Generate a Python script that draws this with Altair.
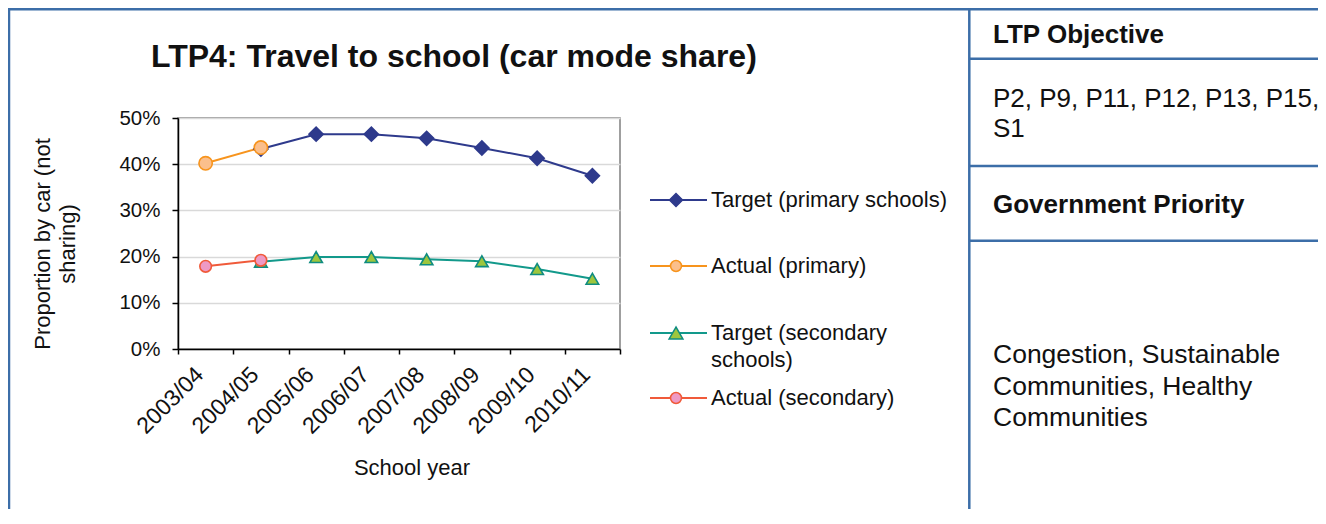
import altair as alt
import pandas as pd

FONT = "Liberation Sans"

# ---------------- data ----------------
years = ["2003/04", "2004/05", "2005/06", "2006/07", "2007/08", "2008/09", "2009/10", "2010/11"]
series_names = ["Target (primary schools)", "Actual (primary)",
                "Target (secondary schools)", "Actual (secondary)"]
target_primary = [None, 43.3, 46.5, 46.5, 45.6, 43.5, 41.3, 37.5]
actual_primary = [40.2, 43.6, None, None, None, None, None, None]
target_secondary = [None, 18.9, 19.9, 19.9, 19.4, 19.0, 17.3, 15.2]
actual_secondary = [17.9, 19.2, None, None, None, None, None, None]
y_ticks = [0, 10, 20, 30, 40, 50]

legend_lines = [["Target (primary schools)"], ["Actual (primary)"],
                ["Target (secondary", "schools)"], ["Actual (secondary)"]]

title_text = "LTP4: Travel to school (car mode share)"
y_title_lines = ["Proportion by car (not", "sharing)"]
x_title_text = "School year"
panel_bold = ["LTP Objective", "Government Priority"]
panel_objective = ["P2, P9, P11, P12, P13, P15,", "S1"]
panel_priority = ["Congestion, Sustainable", "Communities, Healthy", "Communities"]

# ---------------- styles ----------------
line_colors = ["#2E3A8C", "#F7941D", "#12998B", "#F05A3A"]
fill_colors = ["#2E3A8C", "#FBBF8C", "#9DC63E", "#EE9AC5"]
stroke_colors = ["#2E3A8C", "#F7941D", "#0F8C80", "#F05A3A"]
shapes = ["diamond", "circle", "triangle-up", "circle"]
sizes = [200, 135, 210, 135]
FRAME = "#3C6EA8"

rows = []
for name, vals in zip(series_names, [target_primary, actual_primary, target_secondary, actual_secondary]):
    for y, v in zip(years, vals):
        if v is not None:
            rows.append({"year": y, "series": name, "value": v})
df = pd.DataFrame(rows)

x_enc = alt.X(
    "year:N", sort=years, bandPosition=0.5,
    scale=alt.Scale(type="band", domain=years, paddingInner=0, paddingOuter=0),
    axis=alt.Axis(title=None, tickBand="extent", labelAngle=315, labelAlign="right",
                  labelBaseline="top", labelOffset=-14, labelPadding=9, tickSize=5,
                  tickColor="black", tickWidth=1.5, domainColor="black", domainWidth=1.5,
                  labelFont=FONT, labelFontSize=23, labelColor="#111111", grid=False),
)
y_enc = alt.Y(
    "value:Q",
    scale=alt.Scale(domain=[0, 50], nice=False),
    axis=alt.Axis(title=None, values=y_ticks, labelExpr="datum.value + '%'", tickSize=6,
                  labelPadding=12, grid=True, gridColor="#D9D9D9", gridWidth=1.5,
                  domainColor="black", domainWidth=1.5, tickColor="black", tickWidth=1.5,
                  labelFont=FONT, labelFontSize=20.5, labelColor="#111111"),
)

base = alt.Chart(df)
lines = base.mark_line(strokeWidth=2).encode(
    x=x_enc, y=y_enc,
    color=alt.Color("series:N", scale=alt.Scale(domain=series_names, range=line_colors), legend=None),
)
points = base.mark_point(filled=True, opacity=1, strokeWidth=1.6).encode(
    x=x_enc, y=y_enc,
    shape=alt.Shape("series:N", scale=alt.Scale(domain=series_names, range=shapes), legend=None),
    fill=alt.Fill("series:N", scale=alt.Scale(domain=series_names, range=fill_colors), legend=None),
    stroke=alt.Stroke("series:N", scale=alt.Scale(domain=series_names, range=stroke_colors), legend=None),
    size=alt.Size("series:N", scale=alt.Scale(domain=series_names, range=sizes), legend=None),
)

one = pd.DataFrame({"k": [0]})


def text_layer(txt, x, y, size, bold=False, align="left", baseline="alphabetic", angle=0, color="#111111"):
    kw = dict(text=txt, font=FONT, fontSize=size, align=align, baseline=baseline,
              fontWeight="bold" if bold else "normal", color=color)
    if angle:
        kw["angle"] = angle
    return alt.Chart(one).mark_text(**kw).encode(x=alt.value(x), y=alt.value(y))


def hrule(x1, x2, y, color=FRAME, width=2.5):
    return alt.Chart(one).mark_rule(color=color, strokeWidth=width).encode(
        x=alt.value(x1), x2=alt.value(x2), y=alt.value(y))


def vrule(x, y1, y2, color=FRAME, width=2.5):
    return alt.Chart(one).mark_rule(color=color, strokeWidth=width).encode(
        x=alt.value(x), y=alt.value(y1), y2=alt.value(y2))


layers = [lines, points]

# legend (drawn by hand)
leg_y = [82, 148, 215, 280]
leg_sizes = [170, 120, 190, 120]
for i in range(4):
    yy = leg_y[i]
    layers.append(hrule(472, 529, yy, color=line_colors[i], width=2))
    layers.append(alt.Chart(one).mark_point(shape=shapes[i], filled=True, opacity=1,
                                            fill=fill_colors[i], stroke=stroke_colors[i],
                                            strokeWidth=1.5, size=leg_sizes[i]).encode(
        x=alt.value(498), y=alt.value(yy)))
    for j, ln in enumerate(legend_lines[i]):
        layers.append(text_layer(ln, 533, yy + 27 * j, 22, baseline="middle"))

# title and axis titles
layers.append(text_layer(title_text, -27, -51, 32, bold=True))
layers.append(text_layer(y_title_lines[0], -135, 126, 22, align="center", baseline="middle", angle=270))
layers.append(text_layer(y_title_lines[1], -110, 126, 22, align="center", baseline="middle", angle=270))
layers.append(text_layer(x_title_text, 234, 350, 22, align="center", baseline="middle"))

# frame
layers.append(hrule(-170, 1150, -108.7))
layers.append(vrule(-169, -110, 410))
layers.append(vrule(791.3, -110, 410))
for yy in [-59.3, 48, 122.7]:
    layers.append(hrule(791.3, 1150, yy))

# right panel text
layers.append(text_layer(panel_bold[0], 815, -75.3, 26, bold=True))
layers.append(text_layer(panel_objective[0], 815, -11.3, 26))
layers.append(text_layer(panel_objective[1], 815, 18.7, 26))
layers.append(text_layer(panel_bold[1], 815, 95, 26, bold=True))
for j, ln in enumerate(panel_priority):
    layers.append(text_layer(ln, 815, 245 + 31.7 * j, 26.5))

chart = alt.layer(*layers).properties(
    width=442, height=231,
    autosize=alt.AutoSizeParams(type="none"),
    padding={"left": 170, "top": 110, "right": 698, "bottom": 160},
    background="white",
).configure_view(stroke="#808080", strokeWidth=1.5)

chart.save("out.html", embed_options={"renderer": "svg", "actions": False})
